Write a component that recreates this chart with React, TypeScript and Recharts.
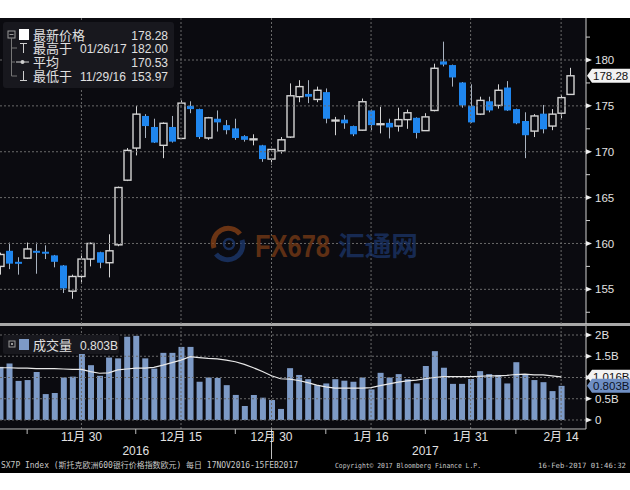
import React from "react";
import { ComposedChart, Bar, Line, XAxis, YAxis, ReferenceLine } from "recharts";

// SX7P daily bars, 17 Nov 2016 - 15 Feb 2017
const dates = [
  "2016-11-17", "2016-11-18", "2016-11-21", "2016-11-22", "2016-11-23", "2016-11-24", "2016-11-25", "2016-11-28", "2016-11-29", "2016-11-30",
  "2016-12-01", "2016-12-02", "2016-12-05", "2016-12-06", "2016-12-07", "2016-12-08", "2016-12-09", "2016-12-12", "2016-12-13", "2016-12-14",
  "2016-12-15", "2016-12-16", "2016-12-19", "2016-12-20", "2016-12-21", "2016-12-22", "2016-12-23", "2016-12-27", "2016-12-28", "2016-12-29",
  "2016-12-30", "2017-01-02", "2017-01-03", "2017-01-04", "2017-01-05", "2017-01-06", "2017-01-09", "2017-01-10", "2017-01-11", "2017-01-12",
  "2017-01-13", "2017-01-16", "2017-01-17", "2017-01-18", "2017-01-19", "2017-01-20", "2017-01-23", "2017-01-24", "2017-01-25", "2017-01-26",
  "2017-01-27", "2017-01-30", "2017-01-31", "2017-02-01", "2017-02-02", "2017-02-03", "2017-02-06", "2017-02-07", "2017-02-08", "2017-02-09",
  "2017-02-10", "2017-02-13", "2017-02-14", "2017-02-15",
];

const opens = [
  157.5, 159.2, 158.0, 158.4, 159.2, 159.1, 158.7, 157.6, 154.8, 156.4,
  158.3, 159.05, 157.9, 159.85, 166.9, 170.4, 173.9, 172.7, 170.7, 172.7,
  171.45, 175.0, 174.65, 171.5, 173.6, 172.9, 172.55, 171.7, 171.3, 170.7,
  169.2, 170.1, 171.6, 176.0, 176.3, 175.7, 176.5, 173.35, 173.5, 172.8,
  172.35, 174.5, 172.95, 173.15, 172.8, 173.5, 173.7, 172.3, 174.5, 179.85,
  179.45, 177.55, 175.0, 174.1, 175.5, 175.05, 177.0, 174.65, 173.35, 172.25,
  174.15, 172.8, 174.2, 176.25,
];
const highs = [
  159.0, 160.1, 158.5, 160.1, 160.1, 159.8, 158.75, 157.65, 156.6, 158.9,
  160.1, 159.1, 161.0, 166.2, 170.4, 175.0, 174.1, 173.6, 173.2, 173.9,
  175.6, 175.5, 174.7, 173.8, 174.5, 173.45, 173.6, 171.8, 171.9, 170.75,
  170.3, 171.6, 177.45, 177.8, 177.8, 177.1, 176.9, 173.8, 174.0, 172.85,
  175.8, 174.6, 174.9, 173.6, 174.8, 174.6, 173.75, 174.2, 179.6, 182.0,
  179.5, 177.6, 177.35, 176.0, 176.0, 177.35, 177.7, 174.7, 174.3, 174.1,
  175.1, 174.65, 176.2, 179.15,
];
const lows = [
  156.6, 157.2, 156.6, 158.3, 156.7, 158.3, 157.4, 154.6, 153.97, 155.6,
  157.5, 157.3, 156.3, 159.7, 166.8, 169.6, 171.5, 170.95, 169.3, 171.0,
  171.4, 174.2, 171.4, 171.3, 172.2, 171.9, 171.3, 171.1, 170.7, 168.9,
  168.6, 169.8, 171.5, 175.4, 175.3, 175.4, 173.1, 171.8, 172.5, 171.7,
  172.3, 172.35, 172.0, 171.45, 172.2, 172.5, 171.45, 172.3, 174.4, 179.3,
  177.1, 174.8, 173.15, 174.0, 174.3, 174.7, 174.45, 173.0, 169.3, 171.6,
  172.0, 172.35, 173.65, 176.2,
];
const closes = [
  158.8, 157.8, 157.8, 159.4, 159.1, 158.9, 158.0, 155.1, 156.4, 158.3,
  160.0, 157.9, 159.2, 166.1, 170.15, 174.1, 172.8, 171.0, 173.1, 171.1,
  175.3, 174.65, 171.6, 173.7, 173.2, 172.35, 171.5, 171.3, 171.4, 169.2,
  170.25, 171.3, 176.1, 177.1, 176.0, 176.7, 173.6, 173.45, 173.1, 171.9,
  175.45, 172.9, 173.05, 172.65, 173.5, 174.25, 172.05, 173.8, 179.1, 179.5,
  178.1, 175.05, 173.2, 175.6, 174.5, 176.7, 174.5, 173.1, 171.8, 173.9,
  172.45, 174.1, 175.9, 178.28,
];

// volume in billions; last day not yet published
const volumes = [
  1.25, 1.33, 0.92, 0.94, 1.13, 0.61, 0.635, 1.0, 1.02, 1.58,
  1.29, 1.04, 1.47, 1.45, 1.96, 1.98, 1.45, 1.21, 1.58, 1.58,
  1.72, 1.72, 0.9, 1.0, 0.99, 0.82, 0.59, 0.33, 0.59, 0.525,
  0.47, 0.26, 1.22, 1.06, 0.96, 0.82, 0.86, 0.96, 0.925, 0.9,
  1.0, 0.72, 1.11, 1.0, 1.08, 0.96, 0.86, 1.27, 1.62, 1.23,
  0.85, 0.85, 0.965, 1.15, 1.08, 1.06, 0.86, 1.36, 1.08, 0.94,
  0.89, 0.68, 0.803, null,
];
const volumeAvg = [
  1.23, 1.23, 1.22, 1.22, 1.21, 1.21, 1.21, 1.2, 1.19, 1.19,
  1.14, 1.1, 1.11, 1.18, 1.2, 1.22, 1.22, 1.24, 1.29, 1.35,
  1.41, 1.49, 1.47, 1.45, 1.44, 1.41, 1.37, 1.31, 1.23, 1.14,
  1.04, 0.97, 0.96, 0.93, 0.88, 0.82, 0.78, 0.75, 0.75, 0.75,
  0.75, 0.76, 0.81, 0.85, 0.89, 0.92, 0.94, 0.97, 1.0, 1.02,
  1.02, 1.02, 1.02, 1.03, 1.04, 1.04, 1.05, 1.07, 1.08, 1.06,
  1.06, 1.04, 1.016, null,
];

const dateTicks = [9, 20, 30, 41, 52, 62];
const dateLabels = ["11月 30", "12月 15", "12月 30", "1月 16", "1月 31", "2月 14"];
const minorDateTicks = [3, 15, 26, 36, 47, 57];
const yearTicks = [15, 47];
const yearLabels = ["2016", "2017"];

const priceTicks = [155, 160, 165, 170, 175, 180];
const priceMinorTicks = [152.5, 157.5, 162.5, 167.5, 172.5, 177.5, 182.5];
const lastPrice = 178.28;

const volTicks = [0, 0.5, 1, 1.5, 2];
const volTickLabels = ["0", "0.5B", "", "1.5B", "2B"]; // 1B sits under the value tags
const lastVolume = 0.803;
const lastVolumeAvg = 1.016;

const BG = "#0b0b10";
const BLUE = "#1f86ee";
const VOL = "#7d9ac6";
const GRID = "#6a6a6a";
const FONT = "'Liberation Sans', 'Noto Sans CJK SC', sans-serif";
const CJK = "'Noto Sans CJK SC', sans-serif";
const X_MAX = 64.75;

function Candle(props: any) {
  const { x, y, width, height, payload } = props;
  if (!payload || x == null || y == null) return null;
  const top = Math.min(y, y + height);
  const h = Math.abs(height);
  const span = payload.high - payload.low;
  const py = (v: number) => (span > 0 ? top + ((payload.high - v) / span) * h : top);
  const cx = Math.round(x + width / 2) + 0.5;
  const up = payload.close >= payload.open;
  const bTop = py(Math.max(payload.open, payload.close));
  const bBot = py(Math.min(payload.open, payload.close));
  const half = 3.5;
  if (up) {
    return (
      <g>
        <line x1={cx} x2={cx} y1={top} y2={top + h} stroke="#d4d4d4" strokeWidth={1} />
        <rect x={cx - half} y={bTop} width={half * 2} height={Math.max(bBot - bTop, 0.6)} fill={BG} stroke="#d4d4d4" strokeWidth={1.4} />
      </g>
    );
  }
  return (
    <g>
      <line x1={cx} x2={cx} y1={top} y2={top + h} stroke="#a9b3c0" strokeWidth={1} />
      <rect x={cx - half} y={bTop} width={half * 2} height={Math.max(bBot - bTop, 2)} fill={BLUE} />
    </g>
  );
}

function Tag({ x, y, text, fill, color }: any) {
  return (
    <g>
      <path d={`M${x + 1},${y} L${x + 6},${y - 7} L630,${y - 7} L630,${y + 7} L${x + 6},${y + 7} Z`} fill={fill} />
      <text x={x + 7} y={y} dy="0.36em" fontSize={11.5} fill={color} fontFamily={FONT}>{text}</text>
    </g>
  );
}

function Marker({ x, y }: any) {
  return <path d={`M${x},${y - 2.5} L${x + 6},${y} L${x},${y + 2.5} Z`} fill="#eeeeee" />;
}

function PriceTick(props: any) {
  const { x, y, payload } = props;
  const v = payload.value;
  if (v === lastPrice) return <Tag x={x} y={y} text={lastPrice.toFixed(2)} fill="#f2f2f2" color="#111" />;
  if (priceMinorTicks.includes(v)) return <line x1={x} x2={x + 4} y1={y} y2={y} stroke="#cfcfcf" />;
  return (
    <g>
      <Marker x={x} y={y} />
      <text x={x + 9} y={y} dy="0.36em" fontSize={11.5} fill="#e2e2e2" fontFamily={FONT}>{v}</text>
    </g>
  );
}

function VolTick(props: any) {
  const { x, y, payload } = props;
  const v = payload.value;
  if (v === lastVolumeAvg) return <Tag x={x} y={y} text={lastVolumeAvg.toFixed(3) + "B"} fill="#f2f2f2" color="#111" />;
  if (v === lastVolume) return <Tag x={x} y={y} text={lastVolume.toFixed(3) + "B"} fill="#6f8fc4" color="#0c1428" />;
  const label = volTickLabels[volTicks.indexOf(v)];
  return (
    <g>
      <Marker x={x} y={y} />
      {label && (
        <text x={x + 9} y={y} dy="0.36em" fontSize={11.5} fill="#e2e2e2" fontFamily={FONT}>{label}</text>
      )}
    </g>
  );
}

function DateTick(props: any) {
  const { x, y, payload } = props;
  const v = payload.value;
  const li = dateTicks.indexOf(v);
  if (li >= 0) {
    return (
      <g>
        {v === 30 && <line x1={x} x2={x} y1={y} y2={y + 30} stroke="#bdbdbd" />}
        <text x={x} y={y + 12} textAnchor="middle" fontSize={12} fill="#e2e2e2" fontFamily={FONT}>{dateLabels[li]}</text>
      </g>
    );
  }
  const yi = yearTicks.indexOf(v);
  return (
    <g>
      <line x1={x} x2={x} y1={y} y2={y + 5} stroke="#bdbdbd" />
      {yi >= 0 && (
        <text x={x} y={y + 26} textAnchor="middle" fontSize={12} fill="#e2e2e2" fontFamily={FONT}>{yearLabels[yi]}</text>
      )}
    </g>
  );
}

export default function App() {
  const priceData = dates.map((date, i) => ({
    i,
    date,
    open: opens[i],
    high: highs[i],
    low: lows[i],
    close: closes[i],
    range: [lows[i], highs[i]],
  }));
  const volData = dates.map((date, i) => ({ i, date, volume: volumes[i], avg: volumeAvg[i] }));

  const txt = { fontFamily: FONT, fill: "#e0e0e0" } as any;

  return (
    <div style={{ position: "absolute", left: 0, top: 0, width: 630, height: 490, background: "#fff", overflow: "hidden" }}>
      <div style={{ position: "absolute", left: 0, top: 18, width: 630, height: 455, background: "#000" }} />
      <div style={{ position: "absolute", left: 0, top: 18, width: 586, height: 306, background: BG }} />
      <div style={{ position: "absolute", left: 0, top: 326, width: 586, height: 103, background: BG }} />
      <div style={{ position: "absolute", left: 0, top: 323, width: 630, height: 3, background: "#a8a8a8" }} />

      <div style={{ position: "absolute", left: 0, top: 18 }}>
        <ComposedChart width={630} height={306} data={priceData} margin={{ top: 0, right: 0, bottom: 0, left: 0 }}>
          <XAxis dataKey="i" type="number" domain={[0, X_MAX]} hide allowDataOverflow />
          <YAxis
            orientation="right"
            width={44}
            domain={[151.22, 184.58]}
            allowDataOverflow
            ticks={[...priceMinorTicks, ...priceTicks, lastPrice]}
            interval={0}
            tickSize={0}
            tickMargin={0}
            tickLine={false}
            axisLine={{ stroke: "#d0d0d0" }}
            tick={<PriceTick />}
          />
          {priceTicks.map((v) => (
            <ReferenceLine key={"h" + v} y={v} stroke={GRID} strokeDasharray="2 2" />
          ))}
          {dateTicks.map((v) => (
            <ReferenceLine key={"v" + v} x={v} stroke={GRID} strokeDasharray="2 2" />
          ))}
          <Bar dataKey="range" barSize={7} shape={<Candle />} isAnimationActive={false} />
        </ComposedChart>
      </div>

      <div style={{ position: "absolute", left: 0, top: 326 }}>
        <ComposedChart width={630} height={148} data={volData} margin={{ top: 0, right: 0, bottom: 0, left: 0 }}>
          <XAxis
            dataKey="i"
            type="number"
            domain={[0, X_MAX]}
            allowDataOverflow
            ticks={[...minorDateTicks, ...dateTicks]}
            interval={0}
            tickSize={0}
            tickMargin={0}
            tickLine={false}
            axisLine={{ stroke: "#bdbdbd" }}
            height={45}
            tick={<DateTick />}
          />
          <YAxis
            orientation="right"
            width={44}
            domain={[-0.212, 2.212]}
            allowDataOverflow
            ticks={[...volTicks, lastVolumeAvg, lastVolume]}
            interval={0}
            tickSize={0}
            tickMargin={0}
            tickLine={false}
            axisLine={{ stroke: "#d0d0d0" }}
            tick={<VolTick />}
          />
          {volTicks.map((v) => (
            <ReferenceLine key={"h" + v} y={v} stroke={GRID} strokeDasharray="2 2" />
          ))}
          {dateTicks.map((v) => (
            <ReferenceLine key={"v" + v} x={v} stroke={GRID} strokeDasharray="2 2" />
          ))}
          <Bar dataKey="volume" barSize={6} fill={VOL} isAnimationActive={false} />
          <Line dataKey="avg" type="linear" stroke="#e8e8e8" strokeWidth={1.2} dot={false} isAnimationActive={false} />
        </ComposedChart>
      </div>

      <svg width={630} height={490} style={{ position: "absolute", left: 0, top: 0, pointerEvents: "none" }}>
        {/* watermark */}
        <g opacity={0.75}>
          <path d="M214,248 A15,15 0 0 1 240,234" fill="none" stroke="#8a4216" strokeWidth={5} />
          <path d="M242,240 A15,15 0 0 1 216,254" fill="none" stroke="#1d3a72" strokeWidth={5} />
          <circle cx={229} cy={244} r={5} fill="none" stroke="#1d3a72" strokeWidth={2.5} />
          <text x={255} y={257} fontSize={31} fontWeight="bold" fill="#7a3c16" fontFamily={FONT} textLength={75} lengthAdjust="spacingAndGlyphs">FX678</text>
          <text x={338} y={256} fontSize={27} fontWeight="bold" fill="#1b3568" fontFamily={CJK} textLength={80} lengthAdjust="spacingAndGlyphs">汇通网</text>
        </g>

        {/* price legend */}
        <rect x={3} y={22} width={171} height={66} rx={3} fill="#18181e" />
        <rect x={8} y={31} width={7} height={7} fill="none" stroke="#9a9a9a" />
        <line x1={9.5} x2={13.5} y1={34.5} y2={34.5} stroke="#9a9a9a" />
        <line x1={11.5} x2={11.5} y1={38} y2={76} stroke="#777" />
        <line x1={11.5} x2={17} y1={48} y2={48} stroke="#777" />
        <line x1={11.5} x2={15} y1={62} y2={62} stroke="#777" />
        <line x1={11.5} x2={17} y1={76} y2={76} stroke="#777" />
        <rect x={19} y={29} width={10} height={11} fill="#ffffff" />
        <line x1={20} x2={27} y1={43.5} y2={43.5} stroke="#cfcfcf" />
        <line x1={23.5} x2={23.5} y1={43.5} y2={53} stroke="#cfcfcf" />
        <line x1={16} x2={29} y1={62} y2={62} stroke="#cfcfcf" />
        <circle cx={22.5} cy={62} r={2} fill="#cfcfcf" />
        <line x1={23.5} x2={23.5} y1={71} y2={80.5} stroke="#cfcfcf" />
        <line x1={20} x2={27} y1={80.5} y2={80.5} stroke="#cfcfcf" />
        <text x={33} y={40} fontSize={13} {...txt} fontFamily={CJK}>最新价格</text>
        <text x={33} y={53} fontSize={13} {...txt} fontFamily={CJK}>最高于</text>
        <text x={33} y={67} fontSize={13} {...txt} fontFamily={CJK}>平均</text>
        <text x={33} y={81} fontSize={13} {...txt} fontFamily={CJK}>最低于</text>
        <text x={80} y={53} fontSize={12} {...txt}>01/26/17</text>
        <text x={80} y={81} fontSize={12} {...txt}>11/29/16</text>
        <text x={168} y={40} fontSize={12} textAnchor="end" {...txt}>178.28</text>
        <text x={168} y={53} fontSize={12} textAnchor="end" {...txt}>182.00</text>
        <text x={168} y={67} fontSize={12} textAnchor="end" {...txt}>170.53</text>
        <text x={168} y={81} fontSize={12} textAnchor="end" {...txt}>153.97</text>

        {/* volume legend */}
        <rect x={3} y={335} width={116} height={19} rx={2} fill="#18181e" />
        <rect x={9} y={341} width={6} height={6} fill="none" stroke="#9a9a9a" />
        <rect x={11} y={343} width={2} height={2} fill="#9a9a9a" />
        <rect x={19} y={339} width={10} height={11} fill={VOL} />
        <text x={33} y={350} fontSize={13} {...txt} fontFamily={CJK}>成交量</text>
        <text x={80} y={350} fontSize={12} {...txt}>0.803B</text>

        {/* footer */}
        <g fill="#c8c8c8" fontFamily="'DejaVu Sans Mono', 'Noto Sans CJK SC', monospace">
          <text x={1} y={468} fontSize={8} textLength={297} lengthAdjust="spacingAndGlyphs">SX7P Index (斯托克欧洲600银行价格指数欧元)  每日 17NOV2016-15FEB2017</text>
          <text x={335} y={468} fontSize={7} textLength={146} lengthAdjust="spacingAndGlyphs">Copyright© 2017 Bloomberg Finance L.P.</text>
          <text x={538} y={468} fontSize={7.2} textLength={88} lengthAdjust="spacingAndGlyphs">16-Feb-2017 01:46:32</text>
        </g>
      </svg>
    </div>
  );
}
